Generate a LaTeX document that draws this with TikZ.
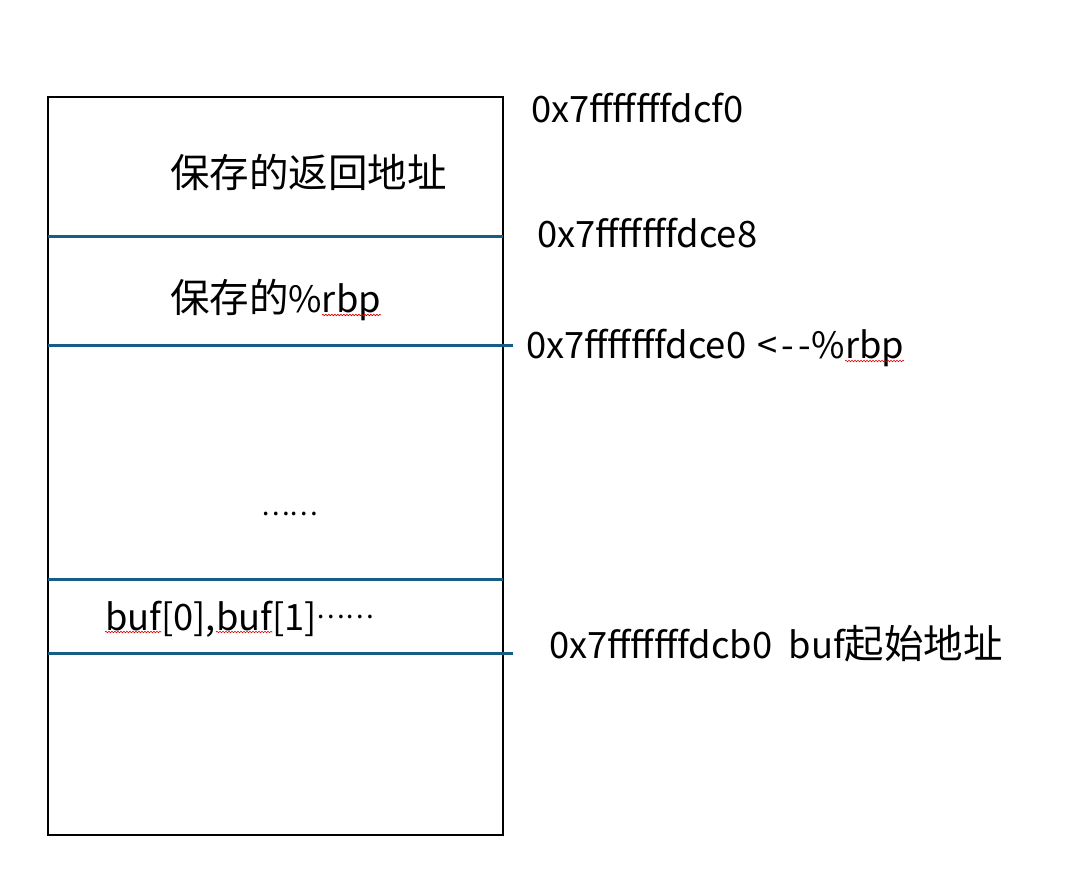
\documentclass[tikz,border=0pt]{standalone}
\usepackage{fontspec}
\setmainfont{Noto Sans CJK SC}
\usetikzlibrary{decorations.pathmorphing}
\definecolor{sepblue}{RGB}{24,94,132}
\newcommand{\lat}{\fontsize{36.3}{42}\selectfont}
\newcommand{\han}{\fontsize{39.5}{46}\selectfont}
\newcommand{\myellip}{{\fontsize{27}{30}\selectfont ……}}
\tikzset{
  txt/.style={anchor=base west, inner sep=0pt, outer sep=0pt, font=\lat},
  sep/.style={draw=sepblue, line width=3pt},
  frame/.style={draw=black, line width=2pt},
  squiggle/.style={draw=red!85!black, line width=0.6pt, decorate,
    decoration={snake, amplitude=0.8pt, segment length=3pt}}
}
\begin{document}
\begin{tikzpicture}[x=1pt,y=-1pt]
\useasboundingbox (0,0) rectangle (1077,881);
% frame
\draw[frame] (48,97) rectangle (503,835);
% separators
\coordinate (s1l) at (48,236); \coordinate (s1r) at (503,236);
\coordinate (s2l) at (48,345); \coordinate (s2r) at (513,345);
\coordinate (s3l) at (48,579); \coordinate (s3r) at (503,579);
\coordinate (s4l) at (48,653); \coordinate (s4r) at (513,653);
\draw[sep] (s1l) -- (s1r);
\draw[sep] (s2l) -- (s2r);
\draw[sep] (s3l) -- (s3r);
\draw[sep] (s4l) -- (s4r);
% texts
\node[txt] (a0) at (531,122) {0x7fffffffdcf0};
\node[txt] (ret) at (170,187) {\han 保存的返回地址};
\node[txt] (a1) at (537,247) {0x7fffffffdce8};
\node[txt] (rbpa) at (170,312) {\han 保存的\lat\%};
\node[txt] (rbpb) at (rbpa.base east) {rbp};
\node[txt] (a2a) at (526,358) {0x7fffffffdce0 \kern3pt<\kern4pt-\kern4pt-\kern1pt\%};
\node[txt] (a2b) at (a2a.base east) {rbp};
\node[txt] (dots) at (261,515) {\myellip};
\node[txt] (bufa) at (105,630) {buf};
\node[txt] (bufb) at (bufa.base east) {[0],};
\node[txt] (bufc) at (bufb.base east) {buf};
\node[txt] (bufd) at (bufc.base east) {[1]\raisebox{12pt}{\myellip}};
\node[txt] (a3) at (549,658) {0x7fffffffdcb0\ \ buf\han 起始地址};
% spell-check squiggles
\draw[squiggle] ([yshift=-3pt]rbpb.base west) -- ([yshift=-3pt]rbpb.base east);
\draw[squiggle] ([yshift=-3pt]a2b.base west) -- ([yshift=-3pt]a2b.base east);
\draw[squiggle] ([yshift=-2pt]bufa.base west) -- ([yshift=-2pt]bufa.base east);
\draw[squiggle] ([yshift=-2pt]bufc.base west) -- ([yshift=-2pt]bufc.base east);
\end{tikzpicture}
\end{document}
